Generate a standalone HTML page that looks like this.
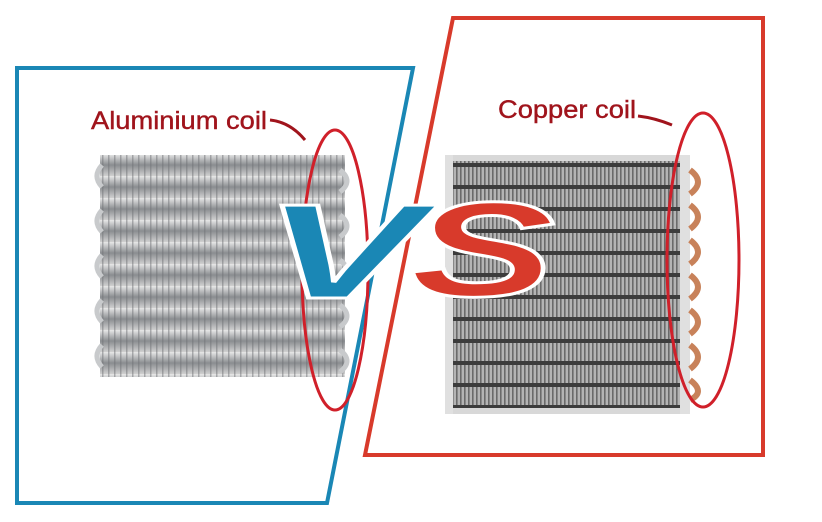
<!DOCTYPE html>
<html><head><meta charset="utf-8"><style>
html,body{margin:0;padding:0;background:#fff;}
svg{display:block;}
</style></head><body>
<svg width="822" height="522" viewBox="0 0 822 522" xmlns="http://www.w3.org/2000/svg">
<defs>
<linearGradient id="al" x1="0" y1="0" x2="0" y2="1">
<stop offset="0" stop-color="#e8e8e8"/><stop offset="0.5" stop-color="#8a8d90"/><stop offset="1" stop-color="#d0d0d0"/>
</linearGradient>
<pattern id="alp" width="6" height="22" patternUnits="userSpaceOnUse">
<rect width="6" height="22" fill="url(#al)"/>
<rect x="0" width="1.5" height="22" fill="#6f7275" opacity="0.5"/>
</pattern>
<pattern id="cup" width="4" height="22" patternUnits="userSpaceOnUse">
<rect width="4" height="22" fill="#b4b4b4"/>
<rect x="0" width="1.6" height="22" fill="#6a6a6a"/>
<rect x="0" y="9" width="4" height="4" fill="#3c3c3c"/>
</pattern>
</defs>
<rect width="822" height="522" fill="#fff"/>
<g>
<rect x="100" y="155" width="245" height="222" fill="url(#alp)"/>
<g fill="none" stroke="#c8cacc" stroke-width="5">
<path d="M102 165 q-10 11 0 22 M102 210 q-10 11 0 22 M102 255 q-10 11 0 22 M102 300 q-10 11 0 22 M102 345 q-10 11 0 22"/>
<path d="M340 170 q14 11 0 22 M340 215 q14 11 0 22 M340 260 q14 11 0 22 M340 305 q14 11 0 22 M340 350 q14 11 0 22"/>
</g>
</g>
<g>
<rect x="445" y="158" width="245" height="255" fill="url(#cup)"/>
<rect x="445" y="155" width="245" height="6" fill="#d8d8d8"/>
<rect x="445" y="408" width="245" height="6" fill="#d8d8d8"/>
<rect x="445" y="155" width="8" height="259" fill="#e0e0e0"/>
<rect x="680" y="155" width="10" height="259" fill="#e0e0e0"/>
<g fill="none" stroke="#c8825a" stroke-width="6">
<path d="M690 170 q16 12 0 24 M690 205 q16 12 0 24 M690 240 q16 12 0 24 M690 275 q16 12 0 24 M690 310 q16 12 0 24 M690 345 q16 12 0 24 M690 380 q16 12 0 20"/>
</g>
</g>
<polygon points="17,68 413,68 327,503 17,503" fill="none" stroke="#1a87b5" stroke-width="4"/>
<polygon points="453,18 763,18 763,455 365,455" fill="none" stroke="#d83a2b" stroke-width="4"/>
<ellipse cx="335" cy="270" rx="33" ry="140" fill="none" stroke="#d0202a" stroke-width="3"/>
<ellipse cx="703" cy="260" rx="36" ry="147" fill="none" stroke="#d0202a" stroke-width="3"/>
<path d="M270 120 Q290 122 305 140" fill="none" stroke="#a0141c" stroke-width="3"/>
<path d="M638 116 Q655 118 672 125" fill="none" stroke="#a0141c" stroke-width="3"/>
<text x="91" y="129" font-family="Liberation Sans, sans-serif" font-size="25" fill="#a0141c" stroke="#a0141c" stroke-width="0.4" textLength="176" lengthAdjust="spacingAndGlyphs">Aluminium coil</text>
<text x="498" y="118" font-family="Liberation Sans, sans-serif" font-size="25" fill="#a0141c" stroke="#a0141c" stroke-width="0.4" textLength="138" lengthAdjust="spacingAndGlyphs">Copper coil</text>
<text x="262" y="298" font-family="Liberation Sans, sans-serif" font-size="135" font-weight="bold" font-style="italic" fill="#1a87b5" stroke="#fff" stroke-width="3" textLength="160" lengthAdjust="spacingAndGlyphs">V</text>
<text x="410" y="296" font-family="Liberation Sans, sans-serif" font-size="135" font-weight="bold" font-style="italic" fill="#d83a2b" stroke="#fff" stroke-width="3" textLength="145" lengthAdjust="spacingAndGlyphs">S</text>
</svg>
</body></html>
